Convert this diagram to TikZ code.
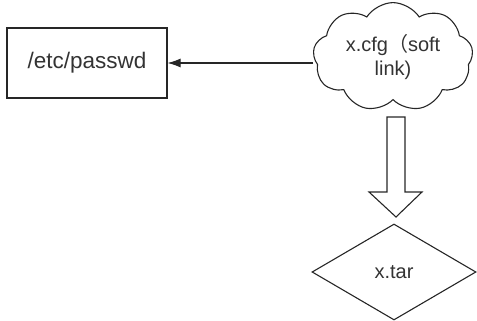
\documentclass[tikz,border=0pt]{standalone}
\usepackage{fontspec}
\setmainfont{Liberation Sans}
\newfontfamily\cjk{Noto Sans CJK SC}
\usetikzlibrary{shapes.geometric,shapes.symbols,arrows.meta}
\begin{document}
\begin{tikzpicture}[x=1pt,y=-1pt,
  line width=1.1pt, draw=black!85,
  every node/.style={font=\fontsize{20}{24}\selectfont, text=black!80},
  box/.style={draw=black!85, rectangle, minimum width=160pt, minimum height=70pt, inner sep=0pt},
  cloudbox/.style={draw=black!85, cloud, cloud puffs=9, cloud puff arc=115, aspect=1.5, minimum width=160pt, minimum height=104pt, inner sep=0pt, align=center},
  diam/.style={draw=black!85, diamond, minimum width=164pt, minimum height=96pt, inner sep=0pt},
  blockarrow/.style={draw=black!85, line width=1.1pt, line join=miter}
]
\useasboundingbox (0,0) rectangle (477,321);
\node[box, font=\fontsize{22.5}{26}\selectfont] (passwd) at (87,63) {/etc/passwd};
\node[cloudbox] (cfg) at (393,57) {x.cfg{\cjk （}soft\\link)};
\node[diam] (tar) at (394,272) {x.tar};
\draw[-{Latex[length=13pt,width=9pt]}] (cfg.west |- passwd) -- (passwd.east);
\draw[blockarrow] (387,117) -- (387,192) -- (369,192) -- (396,217) -- (422,192) -- (405,192) -- (405,117) -- cycle;
\end{tikzpicture}
\end{document}
